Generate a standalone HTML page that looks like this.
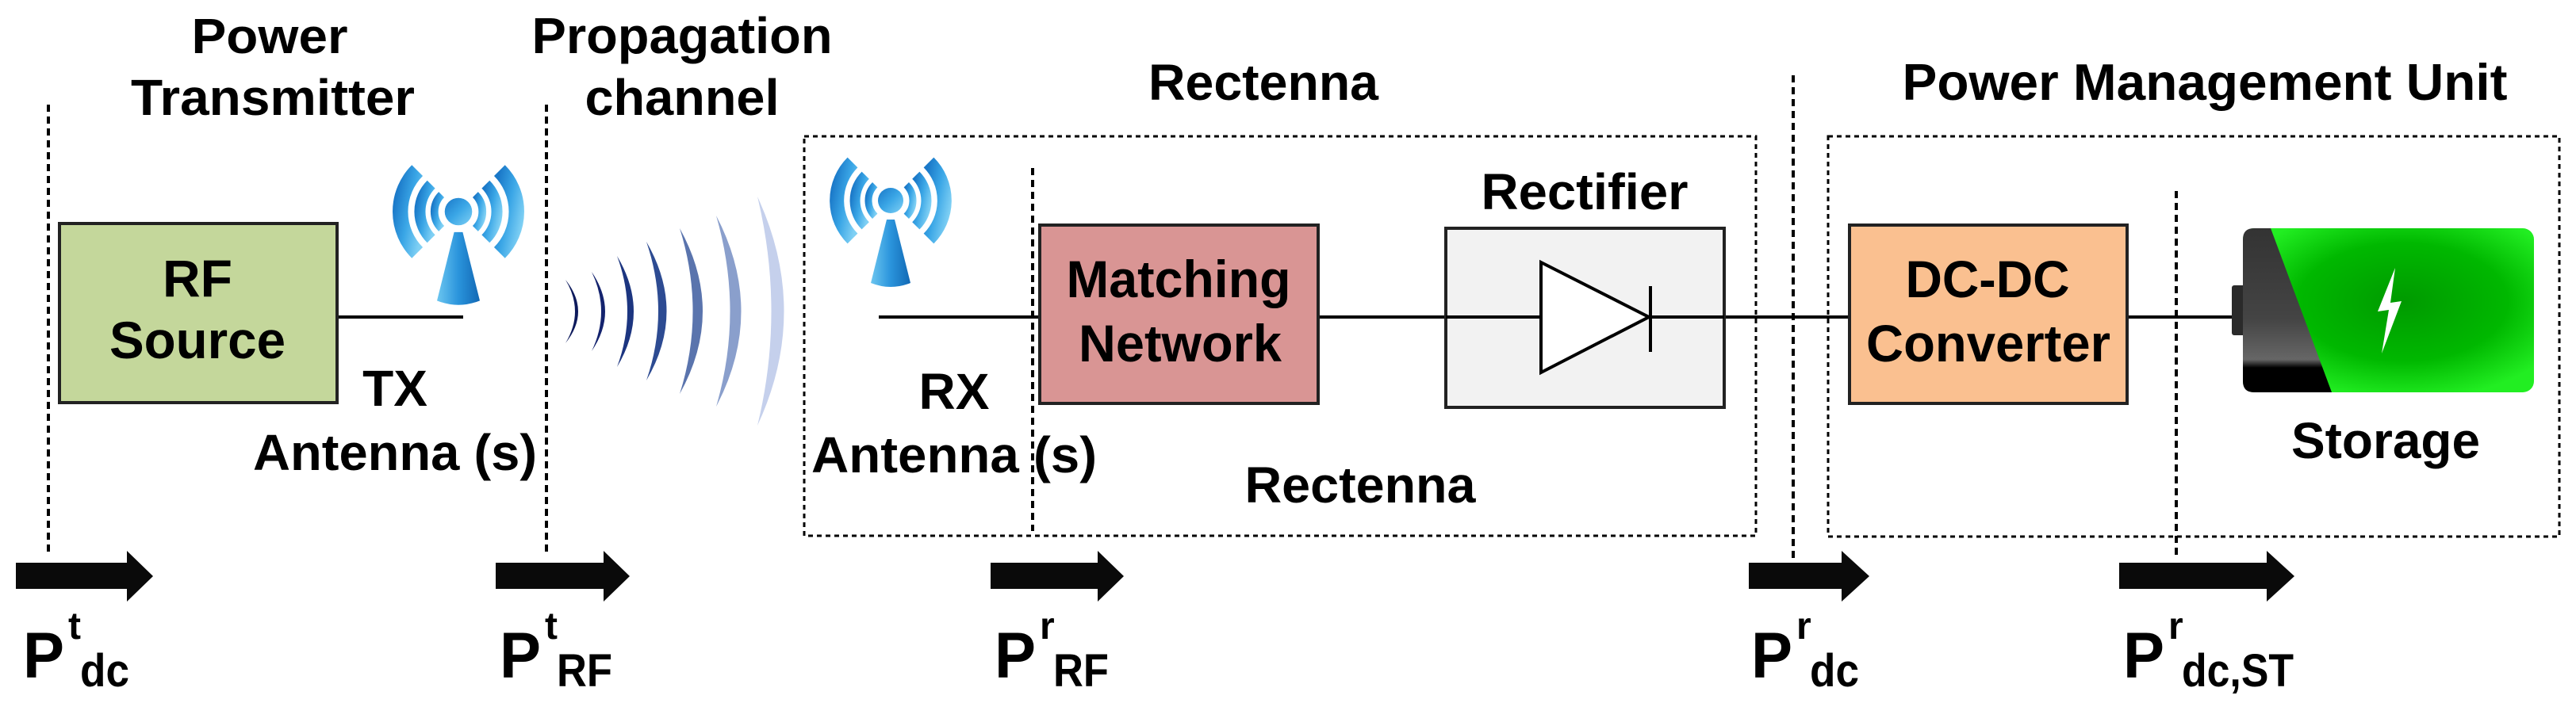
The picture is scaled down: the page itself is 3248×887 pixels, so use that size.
<!DOCTYPE html>
<html><head><meta charset="utf-8"><style>
html,body{margin:0;padding:0;background:#fff;}
svg{display:block;}
text{font-family:"Liberation Sans",Arial,sans-serif;font-weight:bold;fill:#000;}
</style></head><body>
<svg width="3248" height="887" viewBox="0 0 3248 887" xmlns="http://www.w3.org/2000/svg">
<defs>
<linearGradient id="ant" x1="0" y1="0" x2="1" y2="1">
<stop offset="0" stop-color="#1a78c8"/><stop offset="0.5" stop-color="#3aa6e6"/><stop offset="1" stop-color="#7fd0f4"/>
</linearGradient>
<linearGradient id="mast" x1="0" y1="0" x2="1" y2="0">
<stop offset="0" stop-color="#6cc6f0"/><stop offset="0.5" stop-color="#2a94dc"/><stop offset="1" stop-color="#1268b4"/>
</linearGradient>
<radialGradient id="bat" cx="0.55" cy="0.45" r="0.6">
<stop offset="0" stop-color="#009a00"/><stop offset="0.6" stop-color="#00b800"/><stop offset="1" stop-color="#22ee22"/>
</radialGradient>
<linearGradient id="dark" x1="0" y1="0" x2="0" y2="1">
<stop offset="0" stop-color="#333"/><stop offset="0.55" stop-color="#444"/><stop offset="0.8" stop-color="#666"/><stop offset="0.85" stop-color="#000"/><stop offset="1" stop-color="#000"/>
</linearGradient>
<g id="antenna">
<circle cx="0" cy="0" r="16" fill="url(#ant)"/>
<path d="M -19.8 -19.8 A 28 28 0 0 0 -19.8 19.8" fill="none" stroke="url(#ant)" stroke-width="9"/>
<path d="M 19.8 -19.8 A 28 28 0 0 1 19.8 19.8" fill="none" stroke="url(#ant)" stroke-width="9"/>
<path d="M -31.8 -31.8 A 45 45 0 0 0 -31.8 31.8" fill="none" stroke="url(#ant)" stroke-width="13"/>
<path d="M 31.8 -31.8 A 45 45 0 0 1 31.8 31.8" fill="none" stroke="url(#ant)" stroke-width="13"/>
<path d="M -48 -48 A 68 68 0 0 0 -48 48" fill="none" stroke="url(#ant)" stroke-width="18"/>
<path d="M 48 -48 A 68 68 0 0 1 48 48" fill="none" stroke="url(#ant)" stroke-width="18"/>
<path d="M -5 24 L 5 24 L 25 104 Q 0 114 -25 104 Z" fill="url(#mast)"/>
</g>
</defs>

<g stroke="#000" stroke-width="4" stroke-dasharray="9,6" fill="none">
<line x1="61" y1="132" x2="61" y2="698"/>
<line x1="689" y1="132" x2="689" y2="698"/>
<line x1="1302" y1="212" x2="1302" y2="670"/>
<line x1="2261" y1="95" x2="2261" y2="705"/>
<line x1="2744" y1="241" x2="2744" y2="705"/>
</g>
<g stroke="#000" stroke-width="3" stroke-dasharray="6,5" fill="none">
<rect x="1014" y="172" width="1200" height="504"/>
<rect x="2305" y="172" width="922" height="505"/>
</g>

<text x="340" y="67" font-size="62" text-anchor="middle" textLength="197" lengthAdjust="spacingAndGlyphs">Power</text>
<text x="344" y="145" font-size="64" text-anchor="middle" textLength="358" lengthAdjust="spacingAndGlyphs">Transmitter</text>
<text x="860" y="67" font-size="64" text-anchor="middle" textLength="379" lengthAdjust="spacingAndGlyphs">Propagation</text>
<text x="860" y="145" font-size="64" text-anchor="middle" textLength="245" lengthAdjust="spacingAndGlyphs">channel</text>
<text x="1593" y="126" font-size="64" text-anchor="middle" textLength="290" lengthAdjust="spacingAndGlyphs">Rectenna</text>
<text x="2780" y="126" font-size="65" text-anchor="middle" textLength="763" lengthAdjust="spacingAndGlyphs">Power Management Unit</text>

<g stroke="#000" stroke-width="4">
<line x1="425" y1="400" x2="584" y2="400"/>
<line x1="1108" y1="400" x2="1310" y2="400"/>
<line x1="1662" y1="400" x2="1941" y2="400"/>
<line x1="2081" y1="400" x2="2331" y2="400"/>
<line x1="2682" y1="400" x2="2816" y2="400"/>
</g>

<rect x="75" y="282" width="350" height="226" fill="#c4d79b" stroke="#222" stroke-width="4"/>
<text x="249" y="374" font-size="66" text-anchor="middle">RF</text>
<text x="249" y="452" font-size="66" text-anchor="middle" textLength="222" lengthAdjust="spacingAndGlyphs">Source</text>

<use href="#antenna" transform="translate(578,267) scale(1.08)"/>
<text x="498" y="512" font-size="64" text-anchor="middle">TX</text>
<text x="498" y="593" font-size="64" text-anchor="middle" textLength="358" lengthAdjust="spacingAndGlyphs">Antenna (s)</text>

<g>
<path d="M713 353 Q745 393 713 433 Q737 393 713 353Z" fill="#0d1a5c"/>
<path d="M746 343 Q780 393 746 443 Q770 393 746 343Z" fill="#14236e"/>
<path d="M778 323 Q820 393 778 463 Q804 393 778 323Z" fill="#1c3580"/>
<path d="M815 305 Q866 393 815 480 Q845 393 815 305Z" fill="#2d4b92"/>
<path d="M857 288 Q915 393 857 497 Q890 393 857 288Z" fill="#5a74ad"/>
<path d="M903 272 Q966 393 903 513 Q938 393 903 272Z" fill="#8a9fcc"/>
<path d="M955 248 Q1022 393 955 537 Q990 393 955 248Z" fill="#c5d0ec"/>
</g>

<use href="#antenna" transform="translate(1123,253)"/>
<text x="1203" y="516" font-size="64" text-anchor="middle">RX</text>
<text x="1203" y="596" font-size="64" text-anchor="middle" textLength="360" lengthAdjust="spacingAndGlyphs">Antenna (s)</text>

<rect x="1311" y="284" width="351" height="225" fill="#d99594" stroke="#222" stroke-width="4"/>
<text x="1486" y="375" font-size="66" text-anchor="middle" textLength="283" lengthAdjust="spacingAndGlyphs">Matching</text>
<text x="1488" y="456" font-size="66" text-anchor="middle" textLength="256" lengthAdjust="spacingAndGlyphs">Network</text>

<text x="1998" y="264" font-size="64" text-anchor="middle" textLength="261" lengthAdjust="spacingAndGlyphs">Rectifier</text>
<rect x="1823" y="288" width="351" height="226" fill="#f2f2f2" stroke="#222" stroke-width="4"/>
<line x1="1823" y1="400" x2="2174" y2="400" stroke="#000" stroke-width="4"/>
<polygon points="1943,331 2079,400 1943,470" fill="#fff" stroke="#000" stroke-width="4"/>
<line x1="2081" y1="361" x2="2081" y2="444" stroke="#000" stroke-width="4"/>
<text x="1715" y="634" font-size="64" text-anchor="middle" textLength="291" lengthAdjust="spacingAndGlyphs">Rectenna</text>

<rect x="2332" y="284" width="350" height="225" fill="#fac090" stroke="#222" stroke-width="4"/>
<text x="2506" y="375" font-size="66" text-anchor="middle" textLength="207" lengthAdjust="spacingAndGlyphs">DC-DC</text>
<text x="2507" y="456" font-size="66" text-anchor="middle" textLength="308" lengthAdjust="spacingAndGlyphs">Converter</text>

<rect x="2814" y="360" width="20" height="63" rx="3" fill="#2a2a2a"/>
<rect x="2828" y="288" width="367" height="207" rx="14" fill="url(#bat)"/>
<path d="M2842 288 L2863 288 L2940 495 L2842 495 Q2828 495 2828 481 L2828 302 Q2828 288 2842 288Z" fill="url(#dark)"/>
<polygon points="3020,338 2998,393 3012,391 3003,446 3028,380 3014,382" fill="#fff"/>
<text x="3008" y="578" font-size="64" text-anchor="middle" textLength="238" lengthAdjust="spacingAndGlyphs">Storage</text>

<g fill="#0a0a0a">
<polygon points="20,710 160,710 160,695 193,727 160,759 160,743 20,743"/>
<polygon points="625,710 761,710 761,695 794,727 761,759 761,743 625,743"/>
<polygon points="1249,710 1384,710 1384,695 1417,727 1384,759 1384,743 1249,743"/>
<polygon points="2205,710 2322,710 2322,695 2357,727 2322,759 2322,743 2205,743"/>
<polygon points="2672,710 2858,710 2858,695 2893,727 2858,759 2858,743 2672,743"/>
</g>

<g>
<text x="29" y="855" font-size="82" textLength="52" lengthAdjust="spacingAndGlyphs">P</text><text x="86" y="806" font-size="48">t</text><text x="101" y="866" font-size="58" textLength="62" lengthAdjust="spacingAndGlyphs">dc</text>
<text x="630" y="855" font-size="82" textLength="52" lengthAdjust="spacingAndGlyphs">P</text><text x="687" y="806" font-size="48">t</text><text x="702" y="866" font-size="58" textLength="70" lengthAdjust="spacingAndGlyphs">RF</text>
<text x="1254" y="855" font-size="82" textLength="52" lengthAdjust="spacingAndGlyphs">P</text><text x="1311" y="806" font-size="48">r</text><text x="1328" y="866" font-size="58" textLength="70" lengthAdjust="spacingAndGlyphs">RF</text>
<text x="2208" y="855" font-size="82" textLength="52" lengthAdjust="spacingAndGlyphs">P</text><text x="2265" y="806" font-size="48">r</text><text x="2282" y="866" font-size="58" textLength="62" lengthAdjust="spacingAndGlyphs">dc</text>
<text x="2677" y="855" font-size="82" textLength="52" lengthAdjust="spacingAndGlyphs">P</text><text x="2734" y="806" font-size="48">r</text><text x="2751" y="866" font-size="58" textLength="141" lengthAdjust="spacingAndGlyphs">dc,ST</text>
</g>
</svg>
</body></html>
